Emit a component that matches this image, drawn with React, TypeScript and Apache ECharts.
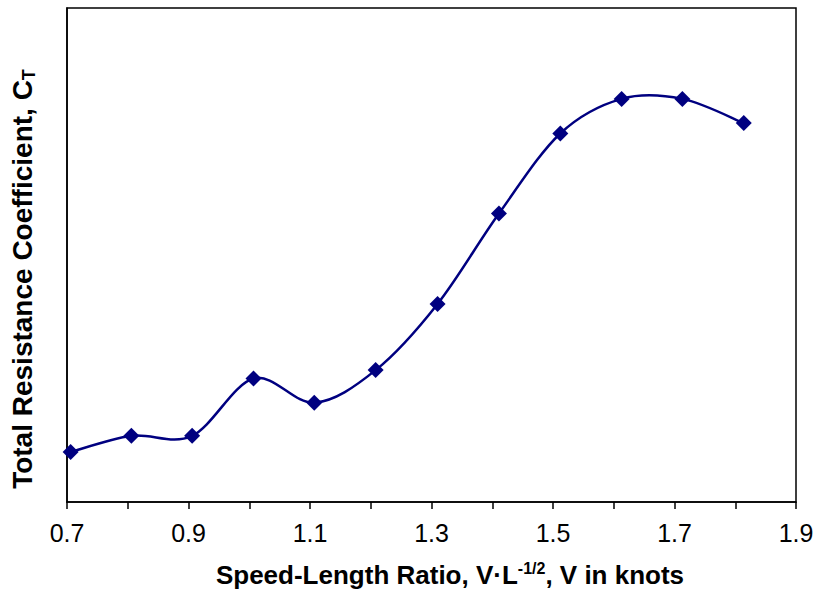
import React, { useEffect, useRef } from "react";
import * as echarts from "echarts";

const xValues = [0.706, 0.806, 0.906, 1.007, 1.107, 1.208, 1.31, 1.411, 1.512, 1.613, 1.713, 1.814];
const ctValues = [10.1, 13.4, 13.4, 25.0, 20.1, 26.7, 40.1, 58.4, 74.6, 81.6, 81.6, 76.7];
const xTicks = [0.7, 0.9, 1.1, 1.3, 1.5, 1.7, 1.9];
const xTitleParts = ["Speed-Length Ratio, V\u00b7L", "-1/2", ", V in knots"];
const yTitleParts = ["Total Resistance Coefficient, C", "T"];

const FONT = "'Liberation Sans', Arial, sans-serif";
const NAVY = "#000080";

export default function App() {
  const ref = useRef<HTMLDivElement>(null);
  useEffect(() => {
    if (!ref.current) return;
    const chart = echarts.init(ref.current, null, { renderer: "svg" });
    const data = xValues.map((x, i) => [x, ctValues[i]]);

    const renderCurve = (params: any, api: any) => {
      if (params.dataIndex !== 0) return null;
      const pts = xValues.map((x, i) => api.coord([x, ctValues[i]]));
      const n = pts.length;
      let d = `M${pts[0][0]},${pts[0][1]}`;
      for (let i = 0; i < n - 1; i++) {
        const p0 = pts[Math.max(0, i - 1)];
        const p1 = pts[i];
        const p2 = pts[i + 1];
        const p3 = pts[Math.min(n - 1, i + 2)];
        const c1x = p1[0] + (p2[0] - p0[0]) / 6;
        const c1y = p1[1] + (p2[1] - p0[1]) / 6;
        const c2x = p2[0] - (p3[0] - p1[0]) / 6;
        const c2y = p2[1] - (p3[1] - p1[1]) / 6;
        d += ` C${c1x},${c1y} ${c2x},${c2y} ${p2[0]},${p2[1]}`;
      }
      return {
        type: "path",
        shape: { pathData: d },
        style: { fill: "none", stroke: NAVY, lineWidth: 2.5 },
        silent: true,
      };
    };

    chart.setOption({
      animation: false,
      grid: {
        left: 67,
        right: 23,
        top: 8,
        bottom: 91,
        show: true,
        borderColor: "#000",
        borderWidth: 1.5,
        backgroundColor: "#fff",
      },
      xAxis: {
        type: "value",
        min: 0.7,
        max: 1.9,
        interval: 0.2,
        axisLine: { show: true, lineStyle: { color: "#000", width: 1.5 } },
        axisTick: { show: true, inside: false, length: 7, lineStyle: { color: "#000", width: 1.5 } },
        minorTick: { show: true, splitNumber: 2, length: 7, lineStyle: { color: "#000", width: 1.5 } },
        splitLine: { show: false },
        axisLabel: {
          color: "#000",
          fontSize: 25,
          fontFamily: FONT,
          margin: 18,
          formatter: (v: number) => {
            const t = xTicks.find((k) => Math.abs(k - v) < 1e-6);
            return t !== undefined ? t.toFixed(1) : "";
          },
        },
      },
      yAxis: {
        type: "value",
        min: 0,
        max: 100,
        axisLine: { show: true, lineStyle: { color: "#000", width: 1.5 } },
        axisTick: { show: false },
        axisLabel: { show: false },
        splitLine: { show: false },
      },
      graphic: [
        {
          type: "text",
          x: 450,
          y: 575,
          style: {
            text: `{b|${xTitleParts[0]}}{sup|${xTitleParts[1]}}{b|${xTitleParts[2]}}`,
            align: "center",
            verticalAlign: "middle",
            fill: "#000",
            rich: {
              b: { fontSize: 26, fontWeight: "bold", fontFamily: FONT, lineHeight: 30, fill: "#000" },
              sup: { fontSize: 16, fontWeight: "bold", fontFamily: FONT, lineHeight: 16, verticalAlign: "top", fill: "#000" },
            },
          },
        },
        {
          type: "text",
          x: 22,
          y: 279,
          rotation: Math.PI / 2,
          style: {
            text: `{b|${yTitleParts[0]}}{sub|${yTitleParts[1]}}`,
            align: "center",
            verticalAlign: "middle",
            fill: "#000",
            rich: {
              b: { fontSize: 28, fontWeight: "bold", fontFamily: FONT, lineHeight: 32, fill: "#000" },
              sub: { fontSize: 18, fontWeight: "bold", fontFamily: FONT, lineHeight: 18, verticalAlign: "bottom", fill: "#000" },
            },
          },
        },
      ],
      series: [
        {
          type: "custom",
          coordinateSystem: "cartesian2d",
          data: data,
          renderItem: renderCurve,
          silent: true,
          z: 2,
        },
        {
          type: "line",
          data,
          symbol: "diamond",
          symbolSize: 16,
          lineStyle: { opacity: 0, width: 0 },
          itemStyle: { color: NAVY },
          z: 3,
        },
      ],
    });
    return () => chart.dispose();
  }, []);
  return <div ref={ref} style={{ width: 819, height: 593, position: "absolute", left: 0, top: 0 }} />;
}
